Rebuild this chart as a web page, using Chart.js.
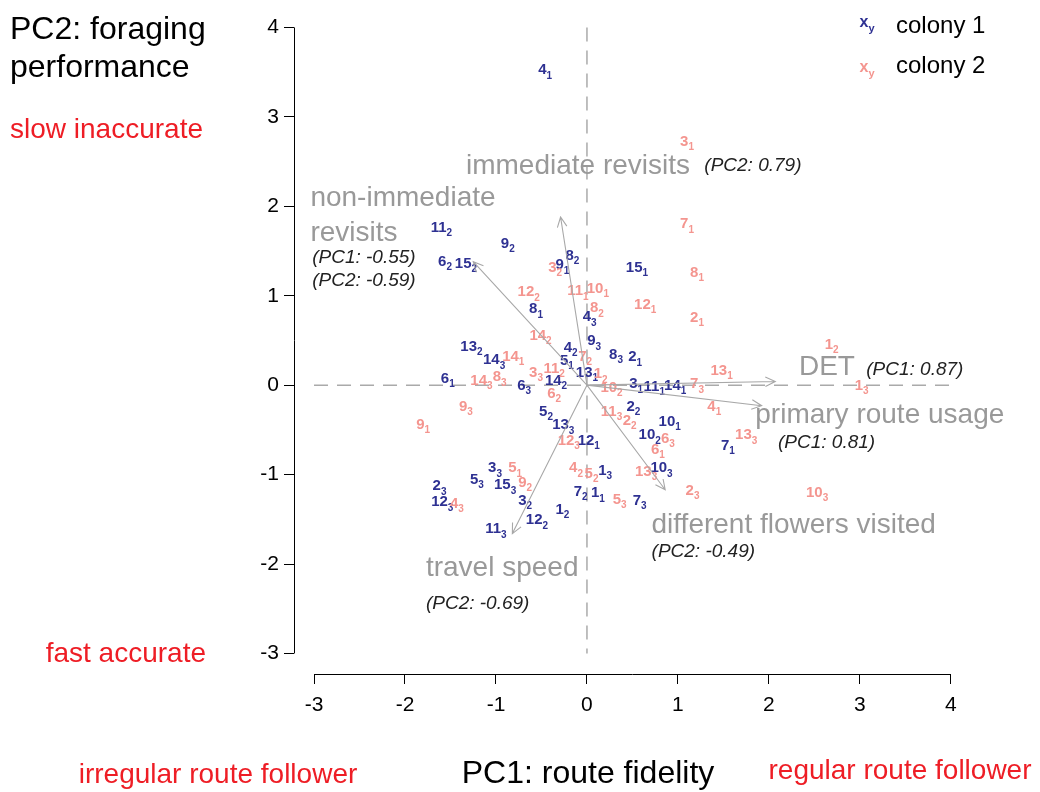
<!DOCTYPE html>
<html>
<head>
<meta charset="utf-8">
<script src="https://cdn.jsdelivr.net/npm/chart.js@4/dist/chart.umd.min.js"></script>
<style>
  html, body { margin: 0; padding: 0; background: #fff; }
  #wrap { width: 1040px; height: 792px; }
</style>
</head>
<body>
<div id="wrap"><canvas id="biplot" width="1040" height="792"></canvas></div>
<script>
// ticks
const xTicks = [-3, -2, -1, 0, 1, 2, 3, 4];
const yTicks = [-3, -2, -1, 0, 1, 2, 3, 4];

// colony 1: bee id, trial (subscript), PC1, PC2
const c1Bee = ['4','11','9','6','15','9','8','15','8','4','9','4','8','2','5','13','13','14','6','6','14','3','11','14','2','10','10','7','10','5','13','12','1','7','1','7','1','12','11','3','15','3','5','2','12'];
const c1Trial = ['1','2','2','2','2','1','2','1','1','3','3','2','3','1','1','1','2','3','1','3','2','1','1','1','2','1','2','1','3','2','3','1','3','2','1','3','2','2','3','2','3','3','3','3','3'];
const c1X = [-0.46,-1.60,-0.87,-1.56,-1.33,-0.27,-0.16,0.55,-0.56,0.03,0.08,-0.18,0.32,0.53,-0.22,0.00,-1.27,-1.02,-1.53,-0.69,-0.34,0.54,0.74,0.97,0.51,0.91,0.69,1.55,0.82,-0.45,-0.26,0.02,0.20,-0.07,0.12,0.58,-0.27,-0.55,-1.00,-0.68,-0.90,-1.01,-1.21,-1.62,-1.59];
const c1Y = [3.53,1.77,1.59,1.39,1.37,1.35,1.46,1.32,0.86,0.77,0.50,0.43,0.35,0.32,0.28,0.15,0.44,0.29,0.08,0.00,0.06,0.02,-0.01,0.00,-0.23,-0.40,-0.55,-0.67,-0.92,-0.29,-0.44,-0.61,-0.95,-1.18,-1.20,-1.28,-1.38,-1.50,-1.60,-1.28,-1.11,-0.92,-1.05,-1.12,-1.30];

// colony 2
const c2Bee = ['3','7','8','3','11','10','12','12','8','2','14','14','7','3','11','1','14','8','6','10','7','13','1','1','4','9','9','11','2','12','6','6','13','13','4','5','5','9','4','5','2','10'];
const c2Trial = ['1','1','1','2','1','1','2','1','2','1','2','1','2','3','2','2','3','3','2','2','3','1','2','3','1','3','1','3','2','3','3','1','3','3','2','2','1','2','3','3','3','3'];
const c2X = [1.10,1.10,1.21,-0.35,-0.10,0.12,-0.64,0.64,0.11,1.21,-0.51,-0.81,-0.02,-0.56,-0.36,0.15,-1.16,-0.96,-0.36,0.27,1.21,1.48,2.69,3.02,1.40,-1.33,-1.80,0.27,0.47,-0.20,0.89,0.78,1.75,0.65,-0.12,0.05,-0.79,-0.68,-1.43,0.36,1.16,2.53];
const c2Y = [2.73,1.81,1.27,1.32,1.06,1.09,1.05,0.91,0.87,0.76,0.56,0.33,0.33,0.15,0.19,0.13,0.06,0.10,-0.09,-0.02,0.02,0.17,0.46,0.00,-0.23,-0.23,-0.43,-0.29,-0.39,-0.61,-0.59,-0.71,-0.55,-0.96,-0.92,-0.98,-0.92,-1.08,-1.32,-1.27,-1.17,-1.19];

// loading arrows
const loadName = ['immediate revisits', 'non-immediate revisits', 'DET', 'primary route usage', 'different flowers visited', 'travel speed'];
const loadX = [-0.29, -1.25, 2.07, 1.92, 0.86, -0.82];
const loadY = [1.88, 1.38, 0.04, -0.23, -1.17, -1.66];

// loading captions: text, italic note, position (data units, left edge)
const capText = ['immediate revisits', '(PC2: 0.79)', 'non-immediate', 'revisits', '(PC1: -0.55)', '(PC2: -0.59)', 'DET', '(PC1: 0.87)', 'primary route usage', '(PC1: 0.81)', 'different flowers visited', '(PC2: -0.49)', 'travel speed', '(PC2: -0.69)'];
const capItalic = [false, true, false, false, true, true, false, true, false, true, false, true, false, true];
const capX = [-1.33, 1.29, -3.04, -3.04, -3.02, -3.02, 2.33, 3.07, 1.85, 2.10, 0.71, 0.71, -1.77, -1.77];
const capY = [2.45, 2.45, 2.09, 1.70, 1.43, 1.17, 0.20, 0.17, -0.34, -0.64, -1.57, -1.86, -2.05, -2.44];

const NAVY = '#2E3192';
const SALMON = '#F4958F';
const RED = '#EE1D25';
const GREY = '#999999';
const FONT = '"Liberation Sans", Arial, sans-serif';

function drawSubLabel(ctx, x, y, main, sub, color, size) {
  ctx.font = `bold ${size}px ${FONT}`;
  const w1 = ctx.measureText(main).width;
  ctx.font = `bold ${Math.round(size * 0.68)}px ${FONT}`;
  const w2 = ctx.measureText(sub).width;
  const left = x - (w1 + w2) / 2;
  ctx.fillStyle = color;
  ctx.textAlign = 'left';
  ctx.textBaseline = 'alphabetic';
  ctx.font = `bold ${size}px ${FONT}`;
  ctx.fillText(main, left, y + size * 0.33);
  ctx.font = `bold ${Math.round(size * 0.68)}px ${FONT}`;
  ctx.fillText(sub, left + w1, y + size * 0.62);
}

const biplotDecor = {
  id: 'biplotDecor',
  beforeDatasetsDraw(chart) {
    const { ctx, scales: { x, y }, chartArea } = chart;
    ctx.save();
    // axis lines, R style
    ctx.strokeStyle = '#000';
    ctx.lineWidth = 1;
    ctx.beginPath();
    ctx.moveTo(chartArea.left + 0.5, y.getPixelForValue(4));
    ctx.lineTo(chartArea.left + 0.5, y.getPixelForValue(-3));
    ctx.moveTo(x.getPixelForValue(-3), chartArea.bottom + 0.5);
    ctx.lineTo(x.getPixelForValue(4), chartArea.bottom + 0.5);
    ctx.stroke();
    // zero lines
    ctx.strokeStyle = '#AAAAAA';
    ctx.lineWidth = 1.5;
    ctx.setLineDash([14, 9]);
    ctx.beginPath();
    ctx.moveTo(x.getPixelForValue(-3), y.getPixelForValue(0));
    ctx.lineTo(x.getPixelForValue(4), y.getPixelForValue(0));
    ctx.moveTo(x.getPixelForValue(0), y.getPixelForValue(4));
    ctx.lineTo(x.getPixelForValue(0), y.getPixelForValue(-3));
    ctx.stroke();
    ctx.restore();
  },
  afterDatasetsDraw(chart) {
    const { ctx, scales: { x, y } } = chart;
    ctx.save();
    // point labels
    chart.data.datasets.forEach((ds, i) => {
      const meta = chart.getDatasetMeta(i);
      meta.data.forEach((pt, j) => {
        drawSubLabel(ctx, pt.x, pt.y, ds.bee[j], ds.trial[j], ds.labelColor, 15);
      });
    });
    // arrows
    const ox = x.getPixelForValue(0), oy = y.getPixelForValue(0);
    ctx.strokeStyle = '#A8A8A8';
    ctx.lineWidth = 1.1;
    loadName.forEach((n, i) => {
      const tx = x.getPixelForValue(loadX[i]), ty = y.getPixelForValue(loadY[i]);
      const a = Math.atan2(ty - oy, tx - ox);
      const h = 11, spread = Math.PI / 7;
      ctx.beginPath();
      ctx.moveTo(ox, oy);
      ctx.lineTo(tx, ty);
      ctx.moveTo(tx - h * Math.cos(a - spread), ty - h * Math.sin(a - spread));
      ctx.lineTo(tx, ty);
      ctx.lineTo(tx - h * Math.cos(a + spread), ty - h * Math.sin(a + spread));
      ctx.stroke();
    });
    // captions
    ctx.textAlign = 'left';
    ctx.textBaseline = 'middle';
    capText.forEach((t, i) => {
      if (capItalic[i]) {
        ctx.font = `italic 19px ${FONT}`;
        ctx.fillStyle = '#222';
      } else {
        ctx.font = `28px ${FONT}`;
        ctx.fillStyle = GREY;
      }
      ctx.fillText(t, x.getPixelForValue(capX[i]), y.getPixelForValue(capY[i]));
    });
    ctx.restore();
  },
  afterDraw(chart) {
    const { ctx } = chart;
    ctx.save();
    // legend
    drawSubLabel(ctx, 867, 22, 'x', 'y', NAVY, 16);
    drawSubLabel(ctx, 867, 67, 'x', 'y', SALMON, 16);
    ctx.fillStyle = '#000';
    ctx.textBaseline = 'middle';
    ctx.textAlign = 'left';
    ctx.font = `24px ${FONT}`;
    ctx.fillText('colony 1', 896, 26);
    ctx.fillText('colony 2', 896, 66);
    // axis titles and poles
    ctx.font = `32px ${FONT}`;
    ctx.fillText('PC2: foraging', 10, 30);
    ctx.fillText('performance', 10, 68);
    ctx.textAlign = 'center';
    ctx.fillText('PC1: route fidelity', 588, 774);
    ctx.font = `28px ${FONT}`;
    ctx.fillStyle = RED;
    ctx.textAlign = 'left';
    ctx.fillText('slow inaccurate', 10, 130);
    ctx.textAlign = 'right';
    ctx.fillText('fast accurate', 206, 654);
    ctx.textAlign = 'center';
    ctx.fillText('irregular route follower', 218, 775);
    ctx.fillText('regular route follower', 900, 771);
    ctx.restore();
  }
};

const toPoints = (xs, ys) => xs.map((v, i) => ({ x: v, y: ys[i] }));

new Chart(document.getElementById('biplot').getContext('2d'), {
  type: 'scatter',
  data: {
    datasets: [
      {
        label: 'colony 1',
        data: toPoints(c1X, c1Y),
        bee: c1Bee,
        trial: c1Trial,
        labelColor: NAVY,
        pointRadius: 0,
        pointHoverRadius: 0,
      },
      {
        label: 'colony 2',
        data: toPoints(c2X, c2Y),
        bee: c2Bee,
        trial: c2Trial,
        labelColor: SALMON,
        pointRadius: 0,
        pointHoverRadius: 0,
      },
    ],
  },
  options: {
    responsive: false,
    animation: false,
    devicePixelRatio: 1,
    layout: { padding: { left: 0, right: 40, top: 10, bottom: 0 } },
    plugins: {
      legend: { display: false },
      tooltip: { enabled: false },
      title: { display: false },
    },
    scales: {
      x: {
        type: 'linear',
        min: -3.22,
        max: 4.54,
        afterBuildTicks: (s) => { s.ticks = xTicks.map((v) => ({ value: v })); },
        afterFit: (s) => { s.height = 118; },
        border: { display: false },
        grid: { drawOnChartArea: false, drawTicks: true, tickLength: 10, tickColor: '#000' },
        ticks: { color: '#000', font: { family: FONT, size: 21 }, padding: 9, maxRotation: 0, autoSkip: false },
      },
      y: {
        type: 'linear',
        min: -3.23,
        max: 4.11,
        afterBuildTicks: (s) => { s.ticks = yTicks.map((v) => ({ value: v })); },
        afterFit: (s) => { s.width = 294; },
        border: { display: false },
        grid: { drawOnChartArea: false, drawTicks: true, tickLength: 10, tickColor: '#000' },
        ticks: { color: '#000', font: { family: FONT, size: 21 }, padding: 5, autoSkip: false },
      },
    },
  },
  plugins: [biplotDecor],
});
</script>
</body>
</html>
